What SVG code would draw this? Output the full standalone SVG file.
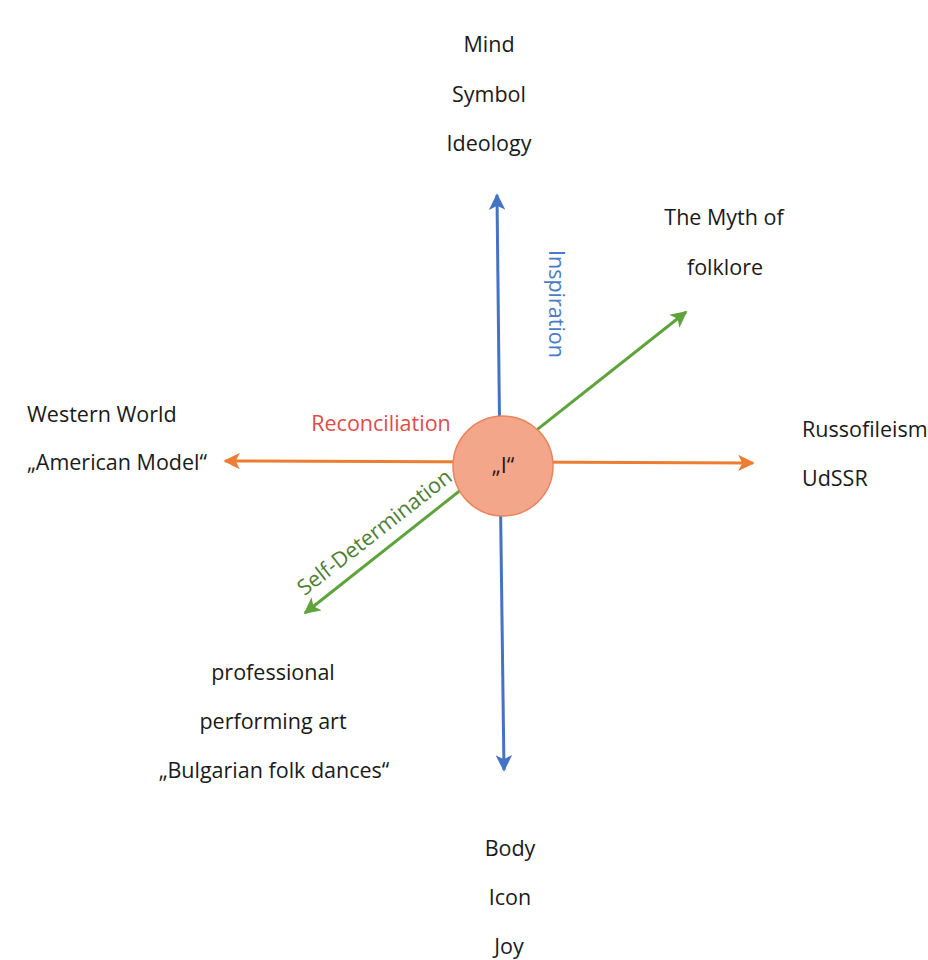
<svg xmlns="http://www.w3.org/2000/svg" width="928" height="960" viewBox="0 0 928 960">
<defs>
<style>
text{font-family:"Open Sans","Liberation Sans",sans-serif;font-size:21.5px;fill:#1a1a1a}
.c{text-anchor:middle}
.blue{stroke:#4472C4;stroke-width:3;fill:none}
.orange{stroke:#ED7D31;stroke-width:3;fill:none}
.green{stroke:#5FA33B;stroke-width:3;fill:none}
</style>
<marker id="ab" viewBox="0 0 10 10" refX="9" refY="5" markerWidth="5.5" markerHeight="5.5" orient="auto" markerUnits="strokeWidth"><path d="M0,0 L10,5 L0,10 L2.5,5 z" fill="#4472C4"/></marker>
<marker id="ao" viewBox="0 0 10 10" refX="9" refY="5" markerWidth="5.5" markerHeight="5.5" orient="auto" markerUnits="strokeWidth"><path d="M0,0 L10,5 L0,10 L2.5,5 z" fill="#ED7D31"/></marker>
<marker id="ag" viewBox="0 0 10 10" refX="9" refY="5" markerWidth="5.5" markerHeight="5.5" orient="auto" markerUnits="strokeWidth"><path d="M0,0 L10,5 L0,10 L2.5,5 z" fill="#5FA33B"/></marker>
</defs>
<rect width="928" height="960" fill="#ffffff"/>
<g id="connectors">
<line class="blue" x1="500" y1="466" x2="497" y2="195" marker-end="url(#ab)"/>
<line class="blue" x1="500" y1="466" x2="504" y2="770" marker-end="url(#ab)"/>
<line class="orange" x1="503" y1="462" x2="225" y2="461" marker-end="url(#ao)"/>
<line class="orange" x1="503" y1="462" x2="753" y2="463" marker-end="url(#ao)"/>
<line class="green" x1="500" y1="459" x2="686" y2="312" marker-end="url(#ag)"/>
<line class="green" x1="500" y1="459" x2="305" y2="613" marker-end="url(#ag)"/>
<text class="c" transform="translate(549 304) rotate(90)" style="fill:#4A7CC6">Inspiration</text>
<text class="c" x="381" y="431" style="fill:#E04B4B">Reconciliation</text>
<text class="c" transform="translate(379 538) rotate(-38)" style="fill:#4E7F35">Self-Determination</text>
</g>
<g id="center">
<circle cx="503" cy="466" r="50" fill="#F4A68A" stroke="#E8855C" stroke-width="1.5"/>
<text class="c" x="503" y="473">„I“</text>
</g>
<g id="top">
<text class="c" x="489" y="52">Mind</text>
<text class="c" x="489" y="102">Symbol</text>
<text class="c" x="489" y="151">Ideology</text>
</g>
<g id="myth">
<text class="c" x="724" y="225">The Myth of</text>
<text class="c" x="725" y="275">folklore</text>
</g>
<g id="western">
<text x="27" y="422">Western World</text>
<text x="27" y="470">„American Model“</text>
</g>
<g id="russo">
<text x="802" y="437">Russofileism</text>
<text x="802" y="486">UdSSR</text>
</g>
<g id="bulgarian">
<text class="c" x="273" y="680">professional</text>
<text class="c" x="273" y="729">performing art</text>
<text class="c" x="274" y="778">„Bulgarian folk dances“</text>
</g>
<g id="bottom">
<text class="c" x="510" y="856">Body</text>
<text class="c" x="510" y="905">Icon</text>
<text class="c" x="509" y="954">Joy</text>
</g>
</svg>
